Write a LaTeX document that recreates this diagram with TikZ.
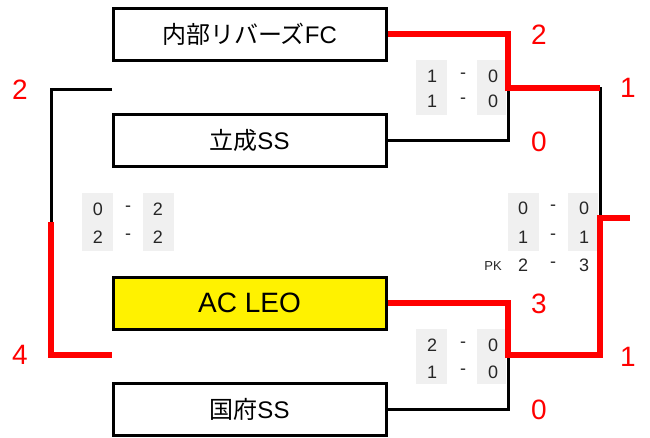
\documentclass[tikz,border=0pt]{standalone}
\usepackage{fontspec}
\setmainfont{Liberation Sans}
\newfontfamily\jpfont{Noto Sans CJK JP}
\begin{document}
\begin{tikzpicture}[x=1pt,y=-1pt,
  team/.style={draw=black,line width=3pt,minimum width=273pt,minimum height=52pt,inner sep=0pt,fill=white,font=\fontsize{24}{24}\selectfont},
  res/.style={text=red,font=\fontsize{28}{28}\selectfont,inner sep=0pt},
  sc/.style={text=black!85,font=\fontsize{18}{18}\selectfont,inner sep=0pt},
  gbox/.style={fill=black!6,draw=none},
  win/.style={draw=red,line width=6pt,line join=miter},
  lose/.style={draw=black,line width=3pt,line join=miter}]
\useasboundingbox (0,0) rectangle (650,437);
% score backgrounds
\fill[gbox] (82,193) rectangle (113,251);
\fill[gbox] (143,193) rectangle (174,251);
\fill[gbox] (416,60) rectangle (447,115);
\fill[gbox] (477,60) rectangle (506,115);
\fill[gbox] (508,193) rectangle (539,251);
\fill[gbox] (568,193) rectangle (598,251);
\fill[gbox] (416,329) rectangle (447,384);
\fill[gbox] (477,329) rectangle (506,384);
% teams
\node[team] (t1) at (249.5,34) {{\jpfont 内部リバーズ}FC};
\node[team] (t2) at (249.5,140.5) {{\jpfont 立成}SS};
\node[team,fill=yellow,font=\fontsize{28}{28}\selectfont] (t3) at (249.5,303) {AC LEO};
\node[team] (t4) at (249.5,409.5) {{\jpfont 国府}SS};
% coordinates
\coordinate (s1) at (508,88);
\coordinate (s2) at (508,355);
\coordinate (f) at (600,218);
\coordinate (champ) at (630,218);
\coordinate (ltop) at (112,89);
\coordinate (lbot) at (112,355);
\coordinate (lmid) at (51,222);
% losing lines
\draw[lose] (t2.east) -| (s1);
\draw[lose] (t4.east) -| (s2);
\draw[lose] (s1) -| (f);
\draw[lose] (ltop) -| (lmid);
% winning lines
\draw[win] (t1.east) -| (s1) -- (600,88);
\draw[win] (t3.east) -| (s2) -| (f) -- (champ);
\draw[win] (lmid) |- (lbot);
% result numbers
\node[res] (r1) at (539,35) {2};
\node[res] (r2) at (539,142) {0};
\node[res] (r3) at (628,88) {1};
\node[res] (r4) at (539,304) {3};
\node[res] (r5) at (539,410) {0};
\node[res] (r6) at (628,357) {1};
\node[res] (r7) at (20,90) {2};
\node[res] (r8) at (20,355) {4};
% scores left
\node[sc] (a1) at (98,209) {0};
\node[sc] (a2) at (128,209) {-};
\node[sc] (a3) at (158,209) {2};
\node[sc] (a4) at (98,237) {2};
\node[sc] (a5) at (128,237) {-};
\node[sc] (a6) at (158,237) {2};
% scores top right
\node[sc] (b1) at (432,76) {1};
\node[sc] (b2) at (463,76) {-};
\node[sc] (b3) at (493,76) {0};
\node[sc] (b4) at (432,101) {1};
\node[sc] (b5) at (463,101) {-};
\node[sc] (b6) at (493,101) {0};
% scores final
\node[sc] (c1) at (523,208) {0};
\node[sc] (c2) at (553,208) {-};
\node[sc] (c3) at (584,208) {0};
\node[sc] (c4) at (523,237) {1};
\node[sc] (c5) at (553,237) {-};
\node[sc] (c6) at (584,237) {1};
\node[sc,font=\fontsize{13}{13}\selectfont] (pk) at (493,266) {PK};
\node[sc] (c7) at (523,265) {2};
\node[sc] (c8) at (553,265) {-};
\node[sc] (c9) at (584,265) {3};
% scores bottom right
\node[sc] (d1) at (432,345) {2};
\node[sc] (d2) at (463,345) {-};
\node[sc] (d3) at (493,345) {0};
\node[sc] (d4) at (432,372) {1};
\node[sc] (d5) at (463,372) {-};
\node[sc] (d6) at (493,372) {0};
\end{tikzpicture}
\end{document}
